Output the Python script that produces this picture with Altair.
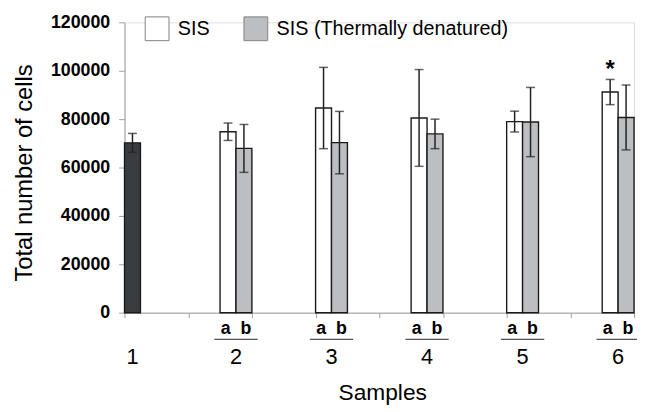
import altair as alt
import pandas as pd

FONT = "Liberation Sans, Arial, sans-serif"

# ---- data ----
samples = ["1", "2", "3", "4", "5", "6"]
control_mean = [70200, None, None, None, None, None]
control_err = [3900, None, None, None, None, None]
sis_mean = [None, 74800, 84600, 80500, 79000, 91200]
sis_err = [None, 3600, 16800, 20000, 4300, 5200]
den_mean = [None, 67900, 70300, 73900, 78800, 80700]
den_err = [None, 9900, 12900, 6100, 14300, 13400]
signif = ["", "", "", "", "", "*"]
sub_labels = ["", "a\u00a0\u00a0b", "a\u00a0\u00a0b", "a\u00a0\u00a0b", "a\u00a0\u00a0b", "a\u00a0\u00a0b"]

series_names = ["Control", "SIS", "SIS (Thermally denatured)"]
series_colors = ["#3a3d40", "#ffffff", "#bdbec2"]

# ---- build tables ----
rows = []
samp_rows = []
for i, s in enumerate(samples):
    slot = 3 * i
    for name, means, errs, off in [
        ("Control", control_mean, control_err, 0.0),
        ("SIS", sis_mean, sis_err, 0.0),
        ("SIS (Thermally denatured)", den_mean, den_err, 0.5),
    ]:
        m = means[i]
        if m is None:
            continue
        e = errs[i]
        rows.append(dict(sample=s, series=name, mean=m, lo=m - e, hi=m + e,
                         x0=slot + off, x1=slot + off + 0.5, xc=slot + off + 0.25,
                         sig=signif[i] if name == "SIS" else ""))
    single = control_mean[i] is not None
    samp_rows.append(dict(sample=s, xc=slot + (0.25 if single else 0.5),
                          u0=slot - 0.18, u1=slot + 1.18, sub=sub_labels[i],
                          has_sub=not single))

bars = pd.DataFrame(rows)
sdf = pd.DataFrame(samp_rows)

W, H = 516, 294

xscale = alt.Scale(domain=[0, 16], nice=False, zero=False)
yscale = alt.Scale(domain=[0, 120000], nice=False)

base = alt.Chart(bars)

bar = base.mark_rect(stroke="#1a1a1a", strokeWidth=1.4).encode(
    x=alt.X("x0:Q", scale=xscale,
            axis=alt.Axis(values=list(range(17)), labels=False, grid=False,
                          domainColor="#a0a0a0", tickColor="#a0a0a0", tickSize=5,
                          title="Samples", titleFont=FONT, titleFontSize=23,
                          titleFontWeight="normal", titleColor="#000000",
                          titleX=261, titleY=88, titleBaseline="alphabetic",
                          titleAlign="center")),
    x2="x1:Q",
    y=alt.Y("mean:Q", scale=yscale,
            axis=alt.Axis(values=[0, 20000, 40000, 60000, 80000, 100000, 120000],
                          grid=False, labelFont=FONT, labelFontSize=18,
                          labelFontWeight="bold", labelColor="#000000",
                          labelPadding=9, tickSize=6, tickColor="#a0a0a0",
                          domainColor="#a0a0a0", format="d",
                          title="Total number of cells", titleFont=FONT,
                          titleFontSize=24, titleFontWeight="normal",
                          titleColor="#000000", titleX=-101, titleY=152,
                          titleBaseline="middle", titleAlign="center", titleAngle=270)),
    y2=alt.Y2(datum=0),
    fill=alt.Fill("series:N",
                  scale=alt.Scale(domain=series_names, range=series_colors),
                  legend=alt.Legend(values=["SIS", "SIS (Thermally denatured)"],
                                    orient="none", legendX=20, legendY=-7,
                                    direction="horizontal", title=None,
                                    symbolType="square", symbolSize=580,
                                    symbolStrokeColor="#808080", symbolStrokeWidth=1,
                                    labelFont=FONT, labelFontSize=20,
                                    labelColor="#000000", labelOffset=8,
                                    labelLimit=0, columnPadding=31, padding=0)),
)

err = base.mark_rule(color="#222222", strokeWidth=1.5).encode(
    x="xc:Q", y="lo:Q", y2="hi:Q")
cap_lo = base.mark_tick(color="#222222", orient="horizontal", size=9,
                        thickness=1.5).encode(x="xc:Q", y="lo:Q")
cap_hi = base.mark_tick(color="#222222", orient="horizontal", size=9,
                        thickness=1.5).encode(x="xc:Q", y="hi:Q")
star = base.mark_text(font=FONT, fontSize=24, fontWeight="bold", baseline="alphabetic",
                      dy=-3, color="#000000").encode(x="xc:Q", y="hi:Q", text="sig:N")

sb = alt.Chart(sdf)
nums = sb.mark_text(font=FONT, fontSize=22, baseline="alphabetic",
                    color="#000000").encode(x="xc:Q", y=alt.value(346), text="sample:N")
subs = sb.mark_text(font=FONT, fontSize=18, fontWeight="bold", baseline="alphabetic",
                    color="#000000").encode(x="xc:Q", y=alt.value(316), text="sub:N")
uline = sb.transform_filter("datum.has_sub").mark_rule(
    color="#555555", strokeWidth=1.2).encode(x="u0:Q", x2="u1:Q", y=alt.value(321))

chart = alt.layer(bar, err, cap_lo, cap_hi, star, nums, subs, uline).properties(
    width=W, height=H,
    autosize=alt.AutoSizeParams(type="none"),
    padding={"left": 118, "top": 12, "right": 3, "bottom": 97},
).configure_view(stroke=None).configure(font=FONT)

chart.save("out.html", embed_options={"renderer": "svg", "actions": False})
